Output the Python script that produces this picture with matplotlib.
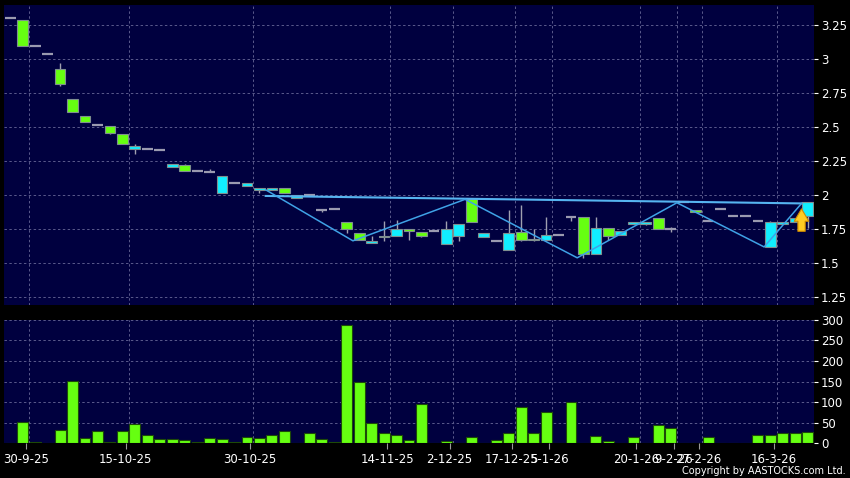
import matplotlib
matplotlib.use("Agg")
import matplotlib.pyplot as plt
import numpy as np
from matplotlib.patches import FancyArrowPatch

# ---------------- data ----------------
opens  = [3.30, 3.29, 3.10, 3.04, 2.93, 2.71, 2.58, 2.52, 2.51, 2.45,
          2.34, 2.34, 2.33, 2.21, 2.22, 2.18, 2.17, 2.02, 2.09, 2.07,
          2.04, 2.04, 2.05, 1.98, 2.00, 1.89, 1.90, 1.80, 1.72, 1.65,
          1.69, 1.70, 1.75, 1.73, 1.74, 1.64, 1.70, 1.97, 1.69, 1.66,
          1.60, 1.73, 1.67, 1.67, 1.71, 1.84, 1.84, 1.57, 1.76, 1.71,
          1.79, 1.79, 1.83, 1.75, 1.95, 1.89, 1.81, 1.90, 1.85, 1.85,
          1.81, 1.62, 1.79, 1.80, 1.85]
highs  = [3.30, 3.29, 3.10, 3.04, 2.97, 2.71, 2.58, 2.52, 2.51, 2.45,
          2.38, 2.34, 2.33, 2.23, 2.23, 2.18, 2.19, 2.14, 2.10, 2.09,
          2.05, 2.05, 2.05, 2.00, 2.00, 1.89, 1.90, 1.80, 1.72, 1.70,
          1.81, 1.82, 1.75, 1.73, 1.74, 1.81, 1.79, 1.97, 1.72, 1.66,
          1.89, 1.93, 1.75, 1.84, 1.71, 1.84, 1.84, 1.84, 1.76, 1.74,
          1.80, 1.80, 1.83, 1.77, 1.95, 1.89, 1.81, 1.90, 1.85, 1.85,
          1.81, 1.81, 1.80, 1.83, 1.95]
lows   = [3.30, 3.10, 3.10, 3.04, 2.80, 2.61, 2.54, 2.52, 2.45, 2.38,
          2.30, 2.34, 2.33, 2.21, 2.18, 2.18, 2.17, 2.02, 2.09, 2.07,
          2.02, 2.04, 2.02, 1.98, 2.00, 1.88, 1.90, 1.72, 1.67, 1.65,
          1.66, 1.70, 1.67, 1.69, 1.74, 1.64, 1.66, 1.80, 1.69, 1.66,
          1.60, 1.66, 1.66, 1.67, 1.71, 1.81, 1.54, 1.57, 1.67, 1.71,
          1.79, 1.78, 1.75, 1.73, 1.95, 1.88, 1.81, 1.90, 1.85, 1.85,
          1.81, 1.62, 1.79, 1.80, 1.76]
closes = [3.30, 3.10, 3.10, 3.04, 2.82, 2.61, 2.54, 2.52, 2.46, 2.38,
          2.36, 2.34, 2.33, 2.23, 2.18, 2.18, 2.17, 2.14, 2.09, 2.09,
          2.05, 2.05, 2.02, 2.00, 2.00, 1.89, 1.90, 1.75, 1.67, 1.66,
          1.70, 1.75, 1.74, 1.70, 1.74, 1.75, 1.79, 1.80, 1.72, 1.66,
          1.72, 1.67, 1.68, 1.71, 1.71, 1.84, 1.57, 1.76, 1.70, 1.74,
          1.80, 1.80, 1.75, 1.75, 1.95, 1.88, 1.81, 1.90, 1.85, 1.85,
          1.81, 1.80, 1.80, 1.83, 1.95]
volumes = [0, 51, 2, 0, 32, 152, 12, 31, 4, 29,
           47, 19, 10, 11, 8, 3, 13, 10, 4, 15,
           12, 19, 30, 1, 26, 10, 3, 288, 148, 50,
           24, 21, 8, 95, 0, 6, 0, 15, 0, 8,
           25, 89, 24, 75, 0, 101, 1, 17, 6, 1,
           15, 1, 44, 36, 0, 0, 15, 0, 0, 0,
           19, 21, 25, 25, 28]

tick_idx = [1, 9, 19, 30, 35, 40, 43, 50, 53, 55, 61]
tick_labels = ["30-9-25", "15-10-25", "30-10-25", "14-11-25", "2-12-25",
               "17-12-25", "5-1-26", "20-1-26", "9-2-26", "27-2-26", "16-3-26"]

# chart pattern (W / double bottom) and neckline
pattern_idx = [21, 28, 37, 46, 54, 61, 64]
pattern_val = [2.04, 1.665, 1.97, 1.54, 1.945, 1.62, 1.94]
neck_idx = [21, 64]
neck_val = [1.995, 1.94]
signal_idx = 64
signal_from, signal_to = 1.735, 1.90

price_ticks = [1.25, 1.5, 1.75, 2, 2.25, 2.5, 2.75, 3, 3.25]
price_tick_labels = ["1.25", "1.5", "1.75", "2", "2.25", "2.5", "2.75", "3", "3.25"]
vol_ticks = [0, 50, 100, 150, 200, 250, 300]

# ---------------- style ----------------
BG = "#000000"
PANEL = "#00003f"
GRID = "#5a5a8c"
GREEN = "#66ff11"
CYAN = "#11eeff"
EDGE = "#7f8f8f"
LINE = "#3fa2e6"

fig = plt.figure(figsize=(8.5, 4.78), dpi=100, facecolor=BG)
W, H = 850.0, 478.0
ax = fig.add_axes([4 / W, 1 - 305 / H, 810 / W, 299.7 / H], facecolor=PANEL)
axv = fig.add_axes([4 / W, 1 - 443.3 / H, 810 / W, 123.8 / H], facecolor=PANEL)

x = np.arange(len(opens))
o = np.array(opens); h = np.array(highs); l = np.array(lows); c = np.array(closes)

for a in (ax, axv):
    a.set_xlim(-0.5, len(opens) - 0.5)
    for s in a.spines.values():
        s.set_visible(False)
    for t in tick_idx:
        a.axvline(t + 0.5, color=GRID, lw=0.7, ls=(0, (2.5, 2.5)), zorder=0.5)
    a.yaxis.tick_right()
    a.tick_params(axis="y", colors="white", labelsize=8.5, length=3, width=0.8,
                  direction="out", pad=2)

# price panel
ax.set_ylim(1.193, 3.397)
ax.set_yticks(price_ticks)
ax.set_yticklabels(price_tick_labels)
for yv in price_ticks:
    ax.axhline(yv, color=GRID, lw=0.7, ls=(0, (2.5, 2.5)), zorder=0.5)
ax.set_xticks([])

w = 0.86
# wicks
ax.vlines(x, l, h, color="#a0a0b0", lw=1.0, zorder=1)
up = c > o
dn = c < o
eq = c == o
ax.bar(x[up], (c - o)[up], w, bottom=o[up], color=CYAN, edgecolor=EDGE, lw=0.8, zorder=2)
ax.bar(x[dn], (o - c)[dn], w, bottom=c[dn], color=GREEN, edgecolor=EDGE, lw=0.8, zorder=2)
ax.hlines(c[eq], x[eq] - w / 2, x[eq] + w / 2, color="#9a9ab0", lw=1.6, zorder=2)

# pattern lines (drawn half a slot to the left, as in the source)
ax.plot(np.array(neck_idx) - 0.5, neck_val, color="#56b4f0", lw=1.5, zorder=3)
ax.plot(np.array(pattern_idx) - 0.5, pattern_val, color=LINE, lw=1.1, zorder=3)

arrow = FancyArrowPatch((signal_idx - 0.5, signal_from), (signal_idx - 0.5, signal_to),
                        arrowstyle="simple,head_width=1.0,head_length=0.85,tail_width=0.5",
                        mutation_scale=10.5, shrinkA=0, shrinkB=0,
                        fc="#ffcc22", ec="#d08a00", lw=0.8, zorder=4)
ax.add_patch(arrow)

# volume panel
axv.set_ylim(0, 301)
axv.set_yticks(vol_ticks)
for yv in vol_ticks[1:]:
    axv.axhline(yv, color=GRID, lw=0.7, ls=(0, (2.5, 2.5)), zorder=0.5)
axv.bar(x, volumes, 0.88, color=GREEN, edgecolor="#1d4a08", lw=0.8, zorder=2)
axv.set_xticks(np.array(tick_idx) + 0.25)
axv.set_xticklabels(tick_labels)
axv.tick_params(axis="x", colors="#9a9a9a", labelcolor="white", labelsize=8.5,
                length=4, width=0.8, direction="out", pad=3)

fig.text(846 / W, 1 - 471 / H, "Copyright by AASTOCKS.com Ltd.", color="white",
         fontsize=7, ha="right", va="center")

fig.savefig("out.png", dpi=100, facecolor=BG)
